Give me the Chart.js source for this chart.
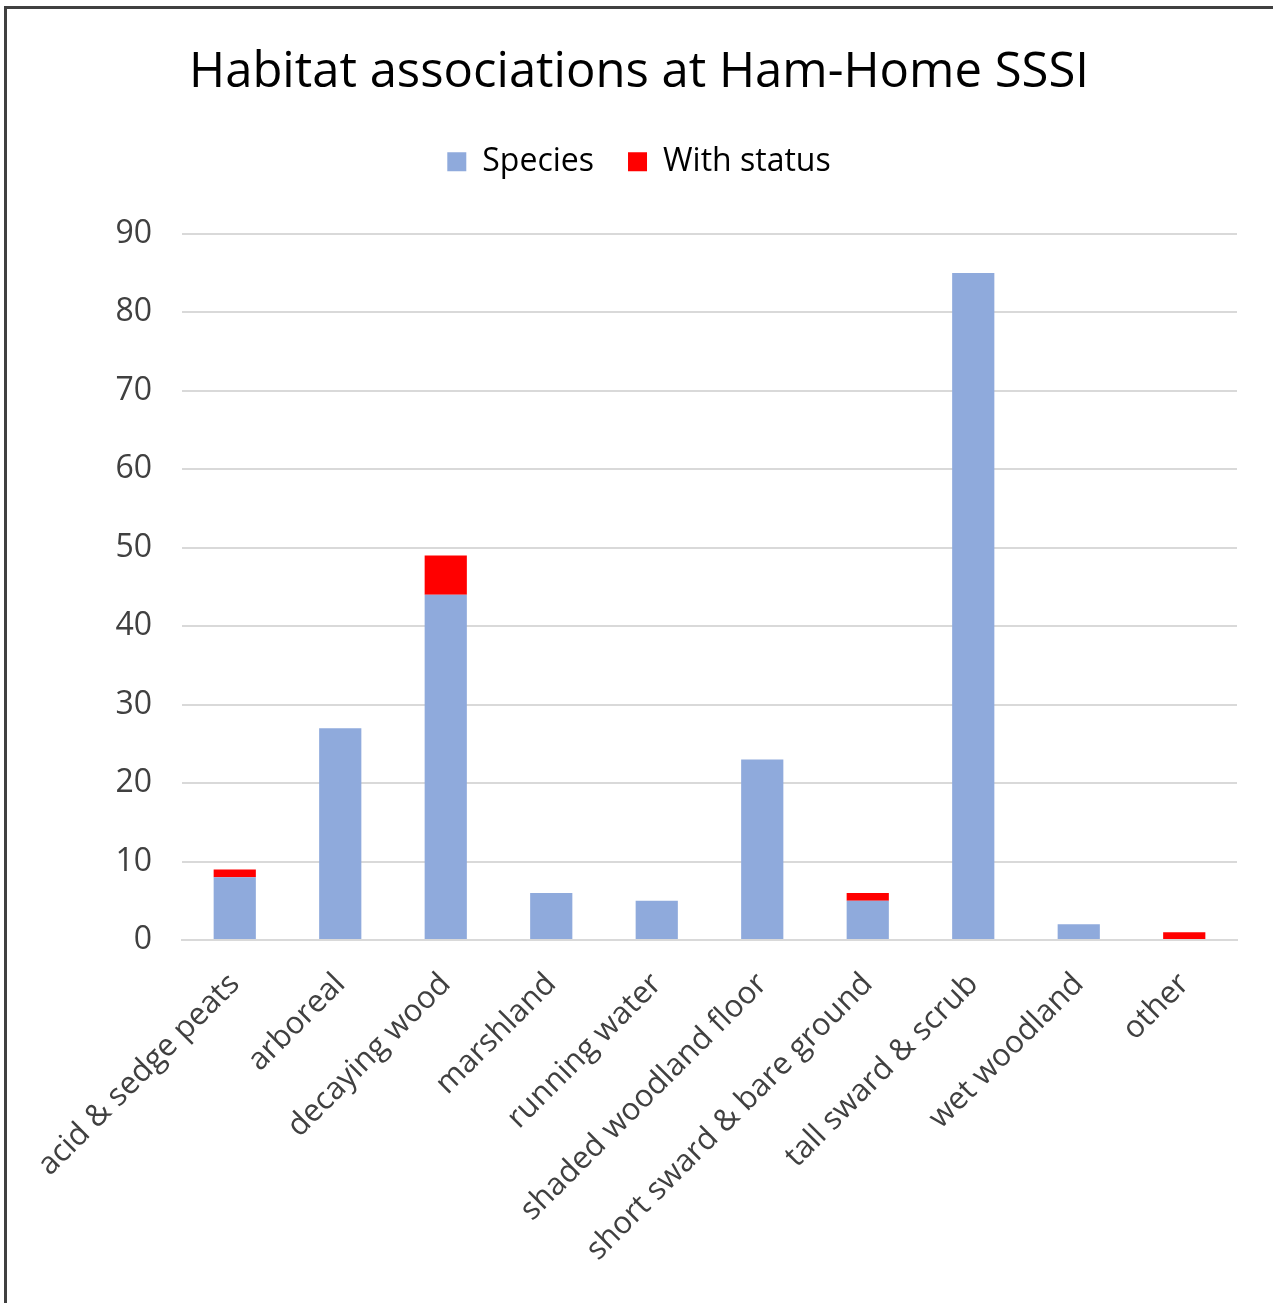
<!DOCTYPE html>
<html>
<head>
<meta charset="utf-8">
<script src="https://cdn.jsdelivr.net/npm/chart.js@4"></script>
<style>
  html, body { margin: 0; padding: 0; background: #fff; overflow: hidden; }
  #wrap { position: relative; width: 1273px; height: 1303px; }
  #frame {
    position: absolute; left: 4px; top: 6px; width: 2000px; height: 2000px;
    border-left: 3px solid #404040; border-top: 3px solid #404040;
    pointer-events: none;
  }
</style>
</head>
<body>
<div id="wrap">
  <canvas id="barChart" width="1273" height="1303"></canvas>
  <div id="frame"></div>
</div>
<script>
const habitats = [
  "acid & sedge peats",
  "arboreal",
  "decaying wood",
  "marshland",
  "running water",
  "shaded woodland floor",
  "short sward & bare ground",
  "tall sward & scrub",
  "wet woodland",
  "other",
];
const speciesCounts = [8, 27, 44, 6, 5, 23, 5, 85, 2, 0];
const withStatusCounts = [1, 0, 5, 0, 0, 0, 1, 0, 0, 1];
const yTicks = { min: 0, max: 90, step: 10 };

const fontFamily = "'Open Sans', 'Liberation Sans', sans-serif";

// extra room under the legend, before the plot starts
const legendMargin = {
  id: "legendMargin",
  beforeInit(chart) {
    const fit = chart.legend.fit;
    chart.legend.fit = function () {
      fit.bind(chart.legend)();
      this.height += 46;
    };
  },
};

const ctxBar = document.getElementById("barChart").getContext("2d");
new Chart(ctxBar, {
  type: "bar",
  data: {
    labels: habitats,
    datasets: [
      {
        label: "Species",
        data: speciesCounts,
        backgroundColor: "#8FAADC",
        borderWidth: 0,
        categoryPercentage: 1,
        barPercentage: 0.4,
      },
      {
        label: "With status",
        data: withStatusCounts,
        backgroundColor: "#FF0000",
        borderWidth: 0,
        categoryPercentage: 1,
        barPercentage: 0.4,
      },
    ],
  },
  plugins: [legendMargin],
  options: {
    responsive: false,
    animation: false,
    devicePixelRatio: 1,
    layout: {
      padding: { left: 41, right: 36, top: 35, bottom: 0 },
    },
    plugins: {
      title: {
        display: true,
        text: "Habitat associations at Ham-Home SSSI",
        color: "#000",
        font: { family: fontFamily, size: 49, weight: "normal" },
        padding: { top: 9, bottom: 9 },
      },
      legend: {
        position: "top",
        labels: {
          color: "#000",
          font: { family: fontFamily, size: 32 },
          boxWidth: 19,
          boxHeight: 19,
          padding: 34,
        },
      },
      tooltip: { enabled: false },
    },
    scales: {
      x: {
        stacked: true,
        grid: { display: false },
        border: { display: true, color: "#D9D9D9", width: 2 },
        ticks: {
          color: "#404040",
          font: { family: fontFamily, size: 31 },
          maxRotation: 45,
          minRotation: 45,
          padding: 18,
        },
        afterFit: (scale) => {
          scale.height = 363;
        },
      },
      y: {
        stacked: true,
        min: yTicks.min,
        max: yTicks.max,
        grid: { color: "#D9D9D9", lineWidth: 2, drawTicks: false },
        border: { display: false },
        ticks: {
          stepSize: yTicks.step,
          color: "#404040",
          font: { family: fontFamily, size: 32 },
          padding: 30,
        },
        afterFit: (scale) => {
          scale.width = 141;
        },
      },
    },
  },
});
</script>
</body>
</html>
